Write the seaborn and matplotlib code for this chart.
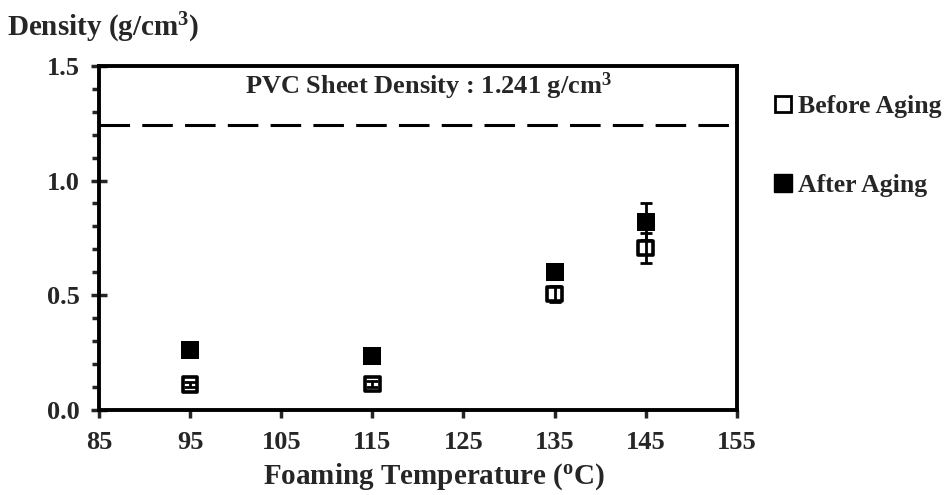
import matplotlib
matplotlib.use("Agg")
import matplotlib.pyplot as plt
from matplotlib.lines import Line2D
from matplotlib.ticker import MultipleLocator, FormatStrFormatter
import pandas as pd
import seaborn as sns

# data
temps = [95, 115, 135, 145]
before_aging = [0.11, 0.113, 0.505, 0.705]
before_err = [0.01, 0.012, 0.035, 0.065]
after_aging = [0.262, 0.235, 0.60, 0.82]
after_err = [0.0, 0.0, 0.0, 0.08]
sheet_density = 1.241
x_ticks = [85, 95, 105, 115, 125, 135, 145, 155]

sns.set_style("ticks")
plt.rcParams["font.family"] = ["Liberation Serif", "DejaVu Serif"]
plt.rcParams["font.weight"] = "bold"
plt.rcParams["mathtext.fontset"] = "custom"
plt.rcParams["mathtext.rm"] = "Liberation Serif:bold"
plt.rcParams["mathtext.it"] = "Liberation Serif:bold"
plt.rcParams["mathtext.bf"] = "Liberation Serif:bold"

df = pd.DataFrame({
    "temp": temps * 2,
    "density": before_aging + after_aging,
    "state": ["Before Aging"] * 4 + ["After Aging"] * 4,
})

fig, ax = plt.subplots(figsize=(9.52, 4.95), dpi=100)
fig.subplots_adjust(left=0.104, right=0.774, top=0.867, bottom=0.172)

ax.axhline(sheet_density, color="black", lw=2.2, dashes=(10, 4), zorder=1)

# error bars
ax.errorbar(temps, after_aging, yerr=after_err, fmt="none", ecolor="black",
            elinewidth=2, capsize=4, capthick=2, zorder=2)
ax.errorbar(temps, before_aging, yerr=before_err, fmt="none", ecolor="black",
            elinewidth=2, capsize=4, capthick=2, zorder=2)

sns.scatterplot(data=df[df.state == "After Aging"], x="temp", y="density",
                marker="s", s=150, color="black", edgecolor="black",
                linewidth=0, ax=ax, zorder=3, legend=False)
sns.scatterplot(data=df[df.state == "Before Aging"], x="temp", y="density",
                marker="s", s=110, facecolor="none", edgecolor="black",
                linewidth=2.6, ax=ax, zorder=3, legend=False)

ax.text(121.1, 1.41, "PVC Sheet Density : 1.241 g/cm$^{3}$", ha="center",
        va="center", fontsize=19, fontweight="bold")

ax.set_xlim(85, 155)
ax.set_ylim(0, 1.5)
ax.set_xticks(x_ticks)
ax.yaxis.set_major_locator(MultipleLocator(0.5))
ax.yaxis.set_minor_locator(MultipleLocator(0.1))
ax.yaxis.set_major_formatter(FormatStrFormatter("%.1f"))
ax.tick_params(axis="x", direction="out", length=6, width=2.5, labelsize=19, pad=9)
ax.tick_params(axis="y", which="major", direction="inout", length=12, width=2.5,
               labelsize=19, pad=8)
ax.tick_params(axis="y", which="minor", direction="out", length=5, width=2.5)
for lab in ax.get_xticklabels() + ax.get_yticklabels():
    lab.set_fontweight("bold")

for side in ["left", "bottom", "top", "right"]:
    ax.spines[side].set_linewidth(2.8)
    ax.spines[side].set_color("black")

ax.set_xlabel("Foaming Temperature ($^{o}$C)", fontsize=21, fontweight="bold")
ax.xaxis.set_label_coords(0.525, -0.15)
ax.set_ylabel("Density (g/cm$^{3}$)", fontsize=21, fontweight="bold", rotation=0,
              ha="left", va="bottom")
ax.yaxis.set_label_coords(-0.145, 1.06)

handles = [
    Line2D([], [], marker="s", ls="none", markersize=12, markerfacecolor="none",
           markeredgecolor="black", markeredgewidth=2),
    Line2D([], [], marker="s", ls="none", markersize=13, markerfacecolor="black",
           markeredgecolor="black"),
]
ax.legend(handles, ["Before Aging", "After Aging"], loc="upper left",
          bbox_to_anchor=(1.016, 0.983), frameon=False,
          labelspacing=2.2, handletextpad=0.1, handlelength=1.0,
          prop={"weight": "bold", "size": 18.5})

fig.savefig("out.png", dpi=100)
